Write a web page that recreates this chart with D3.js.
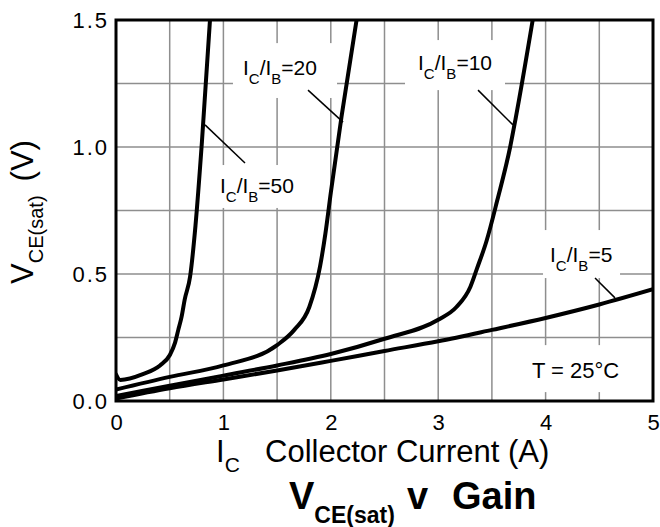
<!DOCTYPE html>
<html>
<head>
<meta charset="utf-8">
<script src="https://cdn.jsdelivr.net/npm/d3@7"></script>
<style>
  html, body { margin: 0; padding: 0; background: #fff; }
  svg { display: block; font-family: "Liberation Sans", Arial, Helvetica, sans-serif; }
</style>
</head>
<body>
<div id="chart"></div>
<script>
// ---------------- data ----------------
const xTicks = [0, 1, 2, 3, 4, 5];
const yTicks = [0, 0.5, 1.0, 1.5];
const xGrid = [0.5, 1, 1.5, 2, 2.5, 3, 3.5, 4, 4.5];
const yGrid = [0.25, 0.5, 0.75, 1.0, 1.25];

// IC/IB = 50
const ic50 = [0, 0.04, 0.25, 0.41, 0.5, 0.55, 0.58, 0.61, 0.64, 0.69, 0.74, 0.80, 0.875];
const v50  = [0.105, 0.083, 0.106, 0.14, 0.18, 0.23, 0.28, 0.33, 0.40, 0.49, 0.69, 1.02, 1.5];
// IC/IB = 20
const ic20 = [0, 0.5, 1.0, 1.5, 1.66, 1.8, 1.9, 1.95, 2.0, 2.1, 2.24];
const v20  = [0.045, 0.095, 0.14, 0.22, 0.28, 0.37, 0.53, 0.66, 0.82, 1.12, 1.5];
// IC/IB = 10
const ic10 = [0, 0.5, 1, 1.5, 2, 2.5, 3, 3.17, 3.30, 3.36, 3.45, 3.55, 3.67, 3.72, 3.88];
const v10  = [0.02, 0.06, 0.10, 0.14, 0.185, 0.245, 0.32, 0.37, 0.45, 0.52, 0.63, 0.79, 1.0, 1.11, 1.5];
// IC/IB = 5
const ic5 = [0, 0.5, 1, 1.5, 2, 2.5, 3, 3.5, 4, 4.5, 5];
const v5  = [0.01, 0.05, 0.085, 0.12, 0.158, 0.197, 0.235, 0.28, 0.327, 0.38, 0.44];

const seriesNames = ["50", "20", "10", "5"];
const seriesX = [ic50, ic20, ic10, ic5];
const seriesY = [v50, v20, v10, v5];

// ---------------- layout ----------------
const W = 660, H = 527;
const M = { left: 116, top: 20, right: 7, bottom: 126 };
const pw = W - M.left - M.right, ph = H - M.top - M.bottom;

const x = d3.scaleLinear().domain([0, 5]).range([M.left, M.left + pw]);
const y = d3.scaleLinear().domain([0, 1.5]).range([M.top + ph, M.top]);

const svg = d3.select("#chart").append("svg").attr("width", W).attr("height", H);

svg.append("defs").append("clipPath").attr("id", "clip")
  .append("rect").attr("x", x(0)).attr("y", y(1.5)).attr("width", pw).attr("height", ph);

// grid
const grid = svg.append("g").attr("stroke", "#8e8e8e").attr("stroke-width", 1.5);
grid.selectAll(".vg").data(xGrid).join("line")
  .attr("x1", d => x(d)).attr("x2", d => x(d)).attr("y1", y(0)).attr("y2", y(1.5));
grid.selectAll(".hg").data(yGrid).join("line")
  .attr("y1", d => y(d)).attr("y2", d => y(d)).attr("x1", x(0)).attr("x2", x(5));

// annotation layout (data units)
const boxes = [
  [1.089, 2.058, 1.193, 1.409],
  [2.691, 3.622, 1.224, 1.421],
  [0.903, 1.713, 0.760, 0.929],
  [3.976, 4.693, 0.484, 0.673],
  [3.808, 4.804, 0.035, 0.220]
];
svg.append("g").selectAll("rect").data(boxes).join("rect")
  .attr("x", d => x(d[0])).attr("width", d => x(d[1]) - x(d[0]))
  .attr("y", d => y(d[3])).attr("height", d => y(d[2]) - y(d[3]))
  .attr("fill", "#fff");

const leaders = [
  [1.788, 1.224, 2.114, 1.098],
  [3.371, 1.224, 3.696, 1.087],
  [0.829, 1.087, 1.201, 0.937],
  [4.46, 0.484, 4.646, 0.406]
];
svg.append("g").attr("stroke", "#000").attr("stroke-width", 1.5)
  .selectAll("line").data(leaders).join("line")
  .attr("x1", d => x(d[0])).attr("y1", d => y(d[1]))
  .attr("x2", d => x(d[2])).attr("y2", d => y(d[3]));

// curves
const line = d3.line().x(d => x(d[0])).y(d => y(d[1])).curve(d3.curveMonotoneX);
svg.append("g").attr("clip-path", "url(#clip)")
  .selectAll("path").data(seriesNames).join("path")
  .attr("d", (n, i) => line(seriesX[i].map((c, j) => [c, seriesY[i][j]])))
  .attr("fill", "none").attr("stroke", "#000").attr("stroke-width", 4)
  .attr("stroke-linejoin", "round").attr("stroke-linecap", "round");

// frame
svg.append("rect").attr("x", x(0)).attr("y", y(1.5)).attr("width", pw).attr("height", ph)
  .attr("fill", "none").attr("stroke", "#000").attr("stroke-width", 3);

// axes tick labels
const xAxis = d3.axisBottom(x).tickValues(xTicks).tickFormat(d3.format("d")).tickSize(0).tickPadding(0);
const gx = svg.append("g").attr("transform", `translate(0,${y(0)})`).call(xAxis);
gx.select(".domain").remove();
gx.selectAll("text").attr("font-size", 22).attr("font-family", null).attr("fill", "#000")
  .attr("dy", null).attr("y", 29);

const yAxis = d3.axisLeft(y).tickValues(yTicks).tickFormat(d3.format(".1f")).tickSize(0).tickPadding(7);
const gy = svg.append("g").attr("transform", `translate(${x(0)},0)`).call(yAxis);
gy.select(".domain").remove();
gy.selectAll("text").attr("font-size", 22).attr("font-family", null).attr("fill", "#000")
  .attr("letter-spacing", 2).attr("dy", "0.36em");

// curve labels
const labels = [
  { n: "20", x: 1.182, y: 1.283 },
  { n: "10", x: 2.812, y: 1.303 },
  { n: "50", x: 0.968, y: 0.819 },
  { n: "5",  x: 4.041, y: 0.547 }
];
labels.forEach(l => {
  const t = svg.append("text").attr("x", x(l.x)).attr("y", y(l.y)).attr("font-size", 21);
  t.append("tspan").text("I");
  t.append("tspan").attr("font-size", 15).attr("dy", 9).text("C");
  t.append("tspan").attr("dy", -9).text("/I");
  t.append("tspan").attr("font-size", 15).attr("dy", 9).text("B");
  t.append("tspan").attr("dy", -9).text("=" + l.n);
});
svg.append("text").attr("x", x(3.873)).attr("y", y(0.0906)).attr("font-size", 22)
  .text("T = 25°C");

// x-axis title
const xt = svg.append("text").attr("y", 462).attr("font-size", 31);
xt.append("tspan").attr("x", 216).text("I");
xt.append("tspan").attr("font-size", 21).attr("dy", 10).text("C");
xt.append("tspan").attr("x", 265).attr("dy", -10).text("Collector Current (A)");

// y-axis title
const yt = svg.append("text").attr("transform", "translate(33,212) rotate(-90)")
  .attr("text-anchor", "middle").attr("font-size", 31);
yt.append("tspan").text("V");
yt.append("tspan").attr("font-size", 20).attr("dy", 10).text("CE(sat)");
yt.append("tspan").attr("dy", -10).attr("dx", 14).text("(V)");

// chart title
const tt = svg.append("text").attr("y", 509).attr("font-weight", "bold").attr("font-size", 38);
tt.append("tspan").attr("x", 289).text("V");
tt.append("tspan").attr("font-size", 23).attr("dy", 14).text("CE(sat)");
tt.append("tspan").attr("x", 407).attr("dy", -14).text("v");
tt.append("tspan").attr("x", 452).text("Gain");
</script>
</body>
</html>
